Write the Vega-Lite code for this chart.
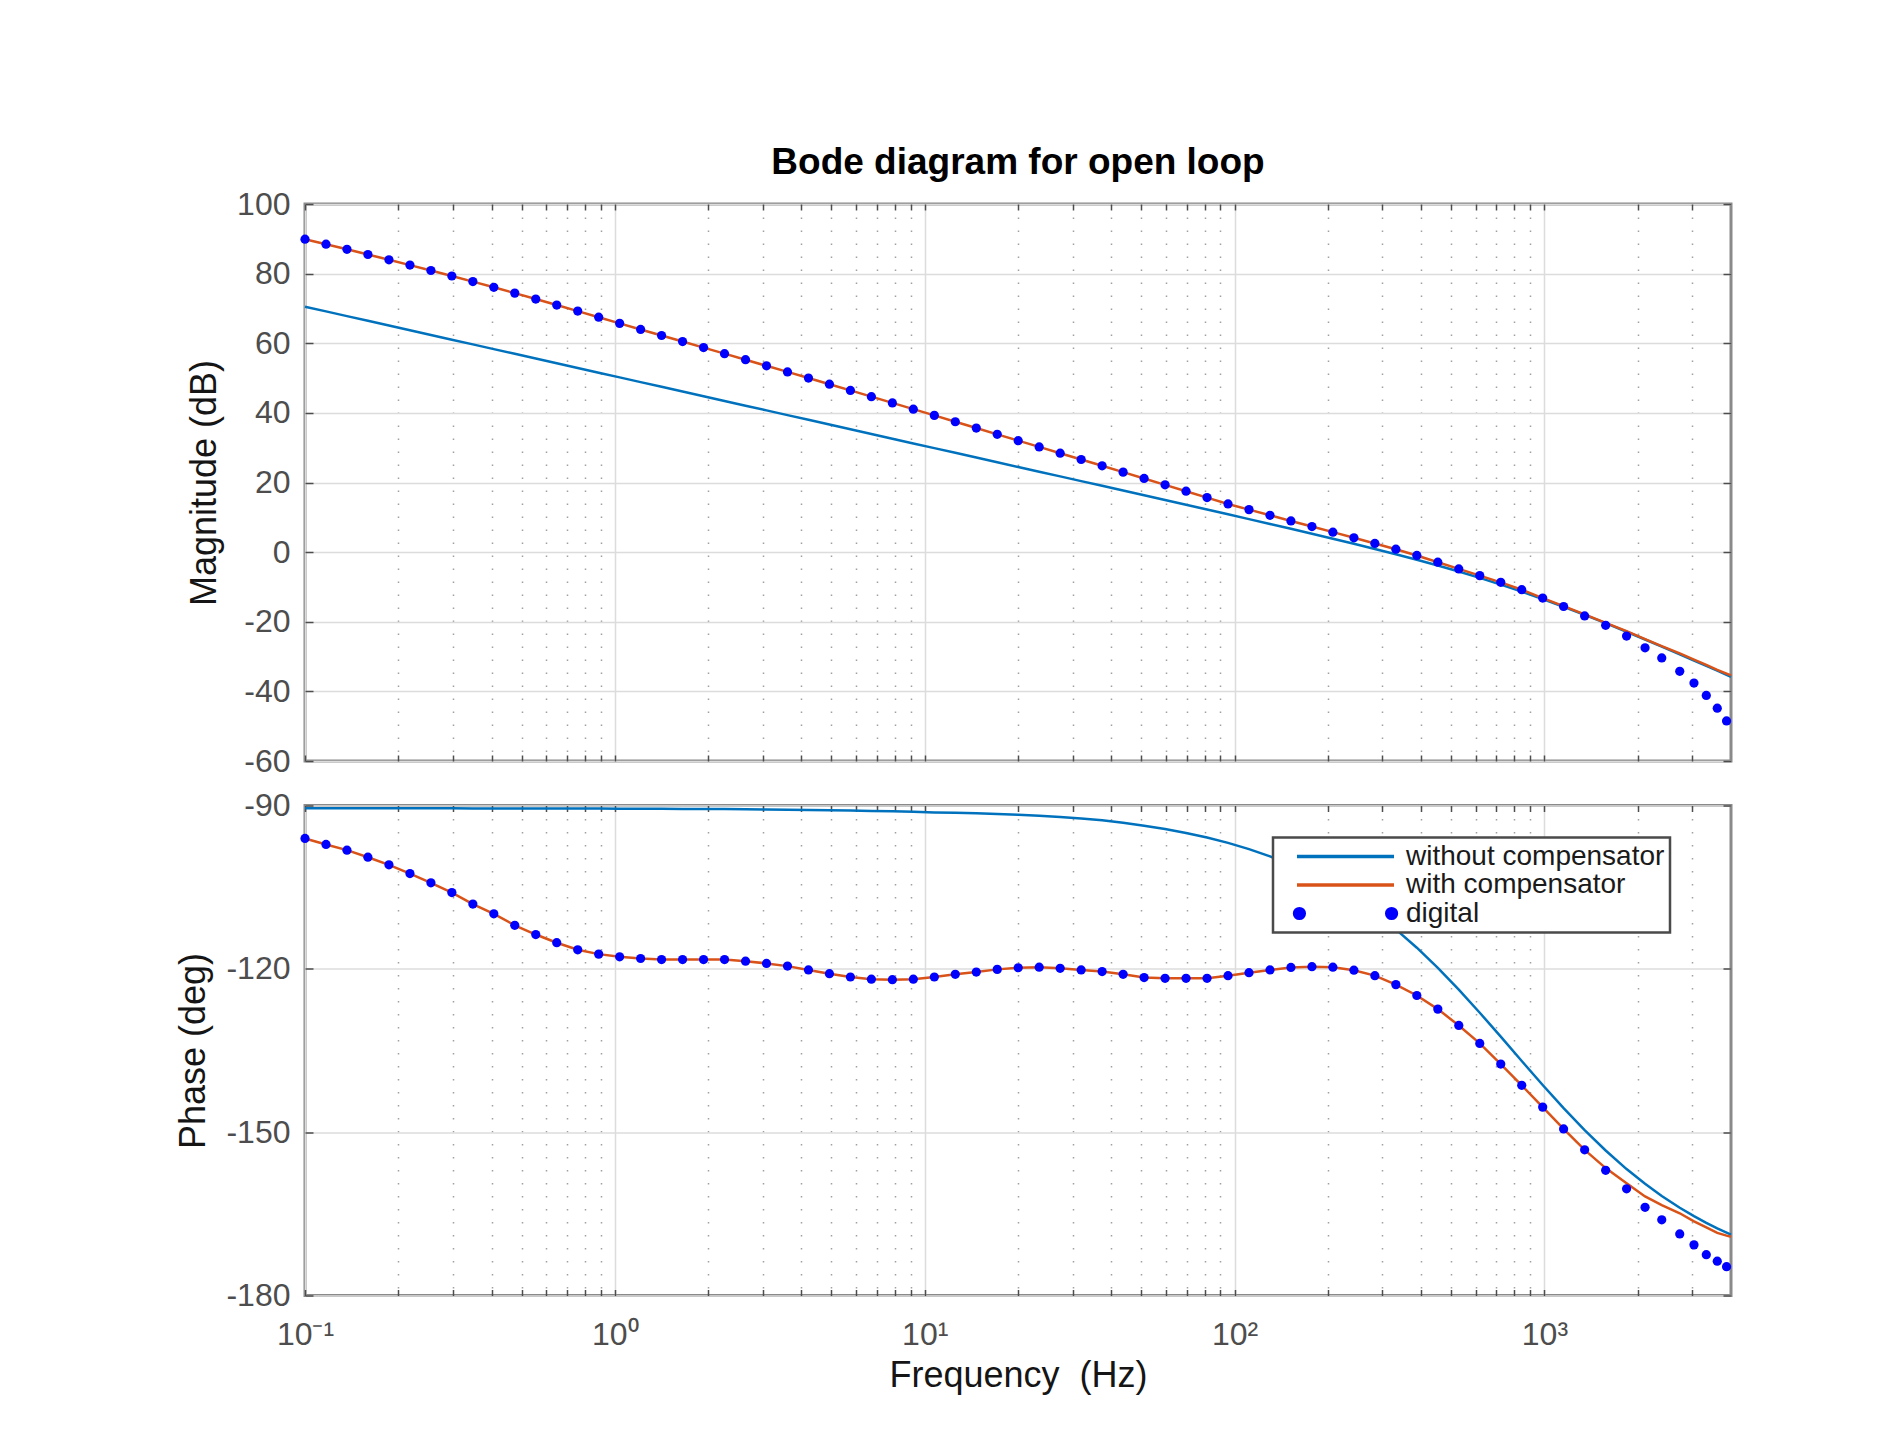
{
  "$schema": "https://vega.github.io/schema/vega-lite/v6.json",
  "background": "white",
  "padding": {"left": 174, "top": 142, "right": 5, "bottom": 5},
  "config": {
    "font": "Liberation Sans",
    "view": {"stroke": "#8a8a8a", "strokeWidth": 3},
    "axis": {"labelFont": "Liberation Sans", "labelFontSize": 32, "labelColor": "#4d4d4d", "titleFont": "Liberation Sans", "titleFontSize": 36, "titleFontWeight": "normal", "titleColor": "#151515", "tickColor": "#4d4d4d", "tickWidth": 1.5, "domain": false, "gridColor": "#dcdcdc", "gridWidth": 1.5, "gridOpacity": 1},
    "legend": {"strokeWidth": 2.5}
  },
  "datasets": {
    "mag": [
      {"f":0.1,"w":70.5,"c":89.9,"d":89.9},
      {"f":0.1169,"w":69.15,"c":88.45,"d":88.45},
      {"f":0.1366,"w":67.79,"c":86.98,"d":86.98},
      {"f":0.1596,"w":66.44,"c":85.49,"d":85.49},
      {"f":0.1866,"w":65.08,"c":83.98,"d":83.98},
      {"f":0.2181,"w":63.73,"c":82.45,"d":82.45},
      {"f":0.2549,"w":62.38,"c":80.9,"d":80.9},
      {"f":0.2978,"w":61.02,"c":79.32,"d":79.32},
      {"f":0.3481,"w":59.67,"c":77.71,"d":77.71},
      {"f":0.4068,"w":58.31,"c":76.07,"d":76.07},
      {"f":0.4753,"w":56.96,"c":74.4,"d":74.4},
      {"f":0.5555,"w":55.61,"c":72.7,"d":72.7},
      {"f":0.6493,"w":54.25,"c":70.98,"d":70.98},
      {"f":0.7588,"w":52.9,"c":69.24,"d":69.24},
      {"f":0.8868,"w":51.54,"c":67.48,"d":67.48},
      {"f":1.036,"w":50.19,"c":65.71,"d":65.71},
      {"f":1.211,"w":48.84,"c":63.96,"d":63.96},
      {"f":1.415,"w":47.48,"c":62.23,"d":62.23},
      {"f":1.654,"w":46.13,"c":60.49,"d":60.49},
      {"f":1.933,"w":44.77,"c":58.75,"d":58.75},
      {"f":2.259,"w":43.42,"c":57.01,"d":57.01},
      {"f":2.641,"w":42.07,"c":55.27,"d":55.27},
      {"f":3.086,"w":40.71,"c":53.52,"d":53.52},
      {"f":3.607,"w":39.36,"c":51.77,"d":51.77},
      {"f":4.215,"w":38.0,"c":50.0,"d":50.0},
      {"f":4.926,"w":36.65,"c":48.23,"d":48.23},
      {"f":5.757,"w":35.3,"c":46.45,"d":46.45},
      {"f":6.728,"w":33.94,"c":44.66,"d":44.66},
      {"f":7.863,"w":32.59,"c":42.86,"d":42.86},
      {"f":9.189,"w":31.23,"c":41.07,"d":41.07},
      {"f":10.74,"w":29.88,"c":39.28,"d":39.28},
      {"f":12.55,"w":28.53,"c":37.45,"d":37.45},
      {"f":14.67,"w":27.17,"c":35.64,"d":35.64},
      {"f":17.14,"w":25.82,"c":33.83,"d":33.83},
      {"f":20.03,"w":24.46,"c":32.02,"d":32.02},
      {"f":23.41,"w":23.11,"c":30.22,"d":30.22},
      {"f":27.36,"w":21.76,"c":28.42,"d":28.42},
      {"f":31.98,"w":20.4,"c":26.61,"d":26.61},
      {"f":37.37,"w":19.05,"c":24.8,"d":24.8},
      {"f":43.68,"w":17.69,"c":22.98,"d":22.98},
      {"f":51.05,"w":16.32,"c":21.16,"d":21.16},
      {"f":59.66,"w":14.96,"c":19.33,"d":19.33},
      {"f":69.72,"w":13.6,"c":17.5,"d":17.5},
      {"f":81.49,"w":12.23,"c":15.66,"d":15.66},
      {"f":95.24,"w":10.86,"c":13.84,"d":13.84},
      {"f":111.3,"w":9.48,"c":12.21,"d":12.21},
      {"f":130.1,"w":8.1,"c":10.58,"d":10.58},
      {"f":152,"w":6.7,"c":8.96,"d":8.96},
      {"f":177.7,"w":5.29,"c":7.35,"d":7.35},
      {"f":207.6,"w":3.86,"c":5.74,"d":5.74},
      {"f":242.7,"w":2.41,"c":4.12,"d":4.12},
      {"f":283.6,"w":0.92,"c":2.49,"d":2.49},
      {"f":331.5,"w":-0.61,"c":0.84,"d":0.84},
      {"f":387.4,"w":-2.2,"c":-0.96,"d":-0.96},
      {"f":452.8,"w":-3.85,"c":-2.89,"d":-2.89},
      {"f":529.1,"w":-5.58,"c":-4.82,"d":-4.82},
      {"f":618.4,"w":-7.4,"c":-6.75,"d":-6.75},
      {"f":722.8,"w":-9.32,"c":-8.68,"d":-8.68},
      {"f":844.7,"w":-11.34,"c":-10.8,"d":-10.8},
      {"f":987,"w":-13.47,"c":-13.21,"d":-13.21},
      {"f":1153,"w":-15.7,"c":-15.5,"d":-15.62},
      {"f":1348,"w":-18.01,"c":-17.9,"d":-18.32},
      {"f":1576,"w":-20.42,"c":-20.3,"d":-21.02},
      {"f":1841,"w":-22.88,"c":-22.7,"d":-24.11},
      {"f":2112,"w":-25.1,"c":-25.0,"d":-27.48},
      {"f":2391,"w":-27.14,"c":-27.0,"d":-30.38},
      {"f":2733,"w":-29.36,"c":-29.1,"d":-34.23},
      {"f":3038,"w":-31.13,"c":-30.9,"d":-37.61},
      {"f":3329,"w":-32.68,"c":-32.4,"d":-41.18},
      {"f":3612,"w":-34.07,"c":-33.8,"d":-44.84},
      {"f":3870,"w":-35.23,"c":-34.9,"d":-48.5},
      {"f":4000,"w":-35.81,"c":-35.4,"d":null}
    ],
    "ph": [
      {"f":0.1,"w":-90.51,"c":-96.05,"d":-96.05},
      {"f":0.1169,"w":-90.51,"c":-97.16,"d":-97.16},
      {"f":0.1366,"w":-90.51,"c":-98.2,"d":-98.2},
      {"f":0.1596,"w":-90.51,"c":-99.5,"d":-99.5},
      {"f":0.1866,"w":-90.51,"c":-100.9,"d":-100.9},
      {"f":0.2181,"w":-90.52,"c":-102.5,"d":-102.5},
      {"f":0.2549,"w":-90.52,"c":-104.2,"d":-104.2},
      {"f":0.2978,"w":-90.52,"c":-106.0,"d":-106.0},
      {"f":0.3481,"w":-90.53,"c":-108.1,"d":-108.1},
      {"f":0.4068,"w":-90.53,"c":-109.9,"d":-109.9},
      {"f":0.4753,"w":-90.53,"c":-112.0,"d":-112.0},
      {"f":0.5555,"w":-90.54,"c":-113.7,"d":-113.7},
      {"f":0.6493,"w":-90.55,"c":-115.2,"d":-115.2},
      {"f":0.7588,"w":-90.56,"c":-116.5,"d":-116.5},
      {"f":0.8868,"w":-90.56,"c":-117.3,"d":-117.3},
      {"f":1.036,"w":-90.58,"c":-117.8,"d":-117.8},
      {"f":1.211,"w":-90.59,"c":-118.1,"d":-118.1},
      {"f":1.415,"w":-90.6,"c":-118.3,"d":-118.3},
      {"f":1.654,"w":-90.62,"c":-118.3,"d":-118.3},
      {"f":1.933,"w":-90.64,"c":-118.3,"d":-118.3},
      {"f":2.259,"w":-90.66,"c":-118.3,"d":-118.3},
      {"f":2.641,"w":-90.69,"c":-118.6,"d":-118.6},
      {"f":3.086,"w":-90.72,"c":-119.0,"d":-119.0},
      {"f":3.607,"w":-90.76,"c":-119.5,"d":-119.5},
      {"f":4.215,"w":-90.81,"c":-120.2,"d":-120.2},
      {"f":4.926,"w":-90.86,"c":-120.9,"d":-120.9},
      {"f":5.757,"w":-90.92,"c":-121.5,"d":-121.5},
      {"f":6.728,"w":-90.99,"c":-121.9,"d":-121.9},
      {"f":7.863,"w":-91.07,"c":-122.0,"d":-122.0},
      {"f":9.189,"w":-91.17,"c":-121.9,"d":-121.9},
      {"f":10.74,"w":-91.28,"c":-121.5,"d":-121.5},
      {"f":12.55,"w":-91.35,"c":-121.0,"d":-121.0},
      {"f":14.67,"w":-91.44,"c":-120.6,"d":-120.6},
      {"f":17.14,"w":-91.55,"c":-120.1,"d":-120.1},
      {"f":20.03,"w":-91.7,"c":-119.8,"d":-119.8},
      {"f":23.41,"w":-91.89,"c":-119.7,"d":-119.7},
      {"f":27.36,"w":-92.1,"c":-119.9,"d":-119.9},
      {"f":31.98,"w":-92.38,"c":-120.2,"d":-120.2},
      {"f":37.37,"w":-92.71,"c":-120.5,"d":-120.5},
      {"f":43.68,"w":-93.16,"c":-121.0,"d":-121.0},
      {"f":51.05,"w":-93.7,"c":-121.6,"d":-121.6},
      {"f":59.66,"w":-94.32,"c":-121.75,"d":-121.75},
      {"f":69.72,"w":-95.04,"c":-121.75,"d":-121.75},
      {"f":81.49,"w":-95.89,"c":-121.75,"d":-121.75},
      {"f":95.24,"w":-96.87,"c":-121.25,"d":-121.25},
      {"f":111.3,"w":-98.02,"c":-120.7,"d":-120.7},
      {"f":130.1,"w":-99.35,"c":-120.2,"d":-120.2},
      {"f":152,"w":-100.89,"c":-119.75,"d":-119.75},
      {"f":177.7,"w":-102.68,"c":-119.6,"d":-119.6},
      {"f":207.6,"w":-104.72,"c":-119.7,"d":-119.7},
      {"f":242.7,"w":-107.08,"c":-120.25,"d":-120.25},
      {"f":283.6,"w":-109.75,"c":-121.25,"d":-121.25},
      {"f":331.5,"w":-112.76,"c":-122.9,"d":-122.9},
      {"f":387.4,"w":-116.12,"c":-124.9,"d":-124.9},
      {"f":452.8,"w":-119.82,"c":-127.4,"d":-127.4},
      {"f":529.1,"w":-123.81,"c":-130.4,"d":-130.4},
      {"f":618.4,"w":-128.06,"c":-133.7,"d":-133.7},
      {"f":722.8,"w":-132.46,"c":-137.5,"d":-137.5},
      {"f":844.7,"w":-136.92,"c":-141.4,"d":-141.4},
      {"f":987,"w":-141.33,"c":-145.4,"d":-145.4},
      {"f":1153,"w":-145.59,"c":-149.4,"d":-149.4},
      {"f":1348,"w":-149.63,"c":-153.25,"d":-153.25},
      {"f":1576,"w":-153.37,"c":-156.6,"d":-157.0},
      {"f":1841,"w":-156.78,"c":-159.4,"d":-160.4},
      {"f":2112,"w":-159.49,"c":-161.8,"d":-163.8},
      {"f":2391,"w":-161.72,"c":-163.4,"d":-166.1},
      {"f":2733,"w":-163.88,"c":-164.9,"d":-168.7},
      {"f":3038,"w":-165.42,"c":-166.4,"d":-170.7},
      {"f":3329,"w":-166.65,"c":-167.5,"d":-172.5},
      {"f":3612,"w":-167.66,"c":-168.5,"d":-173.7},
      {"f":3870,"w":-168.46,"c":-169.0,"d":-174.7},
      {"f":4000,"w":-168.83,"c":-169.2,"d":null}
    ]
  },
  "spacing": 8.5,
  "resolve": {"scale": {"color": "independent"}, "legend": {"color": "independent"}},
  "vconcat": [
    {
      "width": 1426,
      "height": 557,
      "title": {"text": "Bode diagram for open loop", "fontSize": 37, "fontWeight": "bold", "color": "#000000", "font": "Liberation Sans", "anchor": "middle", "frame": "group", "offset": 6},
      "data": {"name": "mag"},
      "resolve": {"axis": {"x": "independent", "y": "independent"}},
      "layer": [
        {
          "transform": [{"fold": ["w", "c"], "as": ["s", "v"]}],
          "mark": {"type": "line", "strokeWidth": 2.5},
          "encoding": {
            "x": {"field": "f", "type": "quantitative", "scale": {"type": "log", "domain": [0.1, 4000], "nice": false},
              "axis": {"orient": "bottom", "values": [0.1,0.2,0.3,0.4,0.5,0.6,0.7,0.8,0.9,1,2,3,4,5,6,7,8,9,10,20,30,40,50,60,70,80,90,100,200,300,400,500,600,700,800,900,1000,2000,3000],
                "labels": false, "title": null, "tickSize": -6, "grid": true,
                "gridDash": {"condition": {"test": "datum.value == 0.1 || datum.value == 1 || datum.value == 10 || datum.value == 100 || datum.value == 1000", "value": []}, "value": [1.5, 11.5]},
                "gridColor": {"condition": {"test": "datum.value == 0.1 || datum.value == 1 || datum.value == 10 || datum.value == 100 || datum.value == 1000", "value": "#dcdcdc"}, "value": "#a0a0a0"}}},
            "y": {"field": "v", "type": "quantitative", "scale": {"domain": [-60, 100], "nice": false, "zero": false},
              "axis": {"orient": "left", "values": [-60,-40,-20,0,20,40,60,80,100], "labelExpr": "'' + datum.value", "tickSize": -8, "labelPadding": 23, "grid": true, "title": "Magnitude (dB)", "titlePadding": 13}},
            "color": {"field": "s", "type": "nominal", "scale": {"domain": ["w", "c", "d"], "range": ["#0072BD", "#D95319", "#0000FF"]}, "legend": null}
          }
        },
        {
          "mark": {"type": "point", "filled": true, "size": 85, "color": "#0000FF", "opacity": 1},
          "encoding": {
            "x": {"field": "f", "type": "quantitative",
              "axis": {"orient": "top", "values": [0.1,0.2,0.3,0.4,0.5,0.6,0.7,0.8,0.9,1,2,3,4,5,6,7,8,9,10,20,30,40,50,60,70,80,90,100,200,300,400,500,600,700,800,900,1000,2000,3000], "labels": false, "grid": false, "tickSize": -6, "title": null}},
            "y": {"field": "d", "type": "quantitative",
              "axis": {"orient": "right", "values": [-60,-40,-20,0,20,40,60,80,100], "labels": false, "grid": false, "tickSize": -8, "title": null}}
          }
        }
      ]
    },
    {
      "width": 1426,
      "height": 490,
      "data": {"name": "ph"},
      "resolve": {"axis": {"x": "independent", "y": "independent"}},
      "layer": [
        {
          "transform": [{"fold": ["w", "c"], "as": ["s", "v"]}],
          "mark": {"type": "line", "strokeWidth": 2.5},
          "encoding": {
            "x": {"field": "f", "type": "quantitative", "scale": {"type": "log", "domain": [0.1, 4000], "nice": false},
              "axis": {"orient": "bottom", "values": [0.1,0.2,0.3,0.4,0.5,0.6,0.7,0.8,0.9,1,2,3,4,5,6,7,8,9,10,20,30,40,50,60,70,80,90,100,200,300,400,500,600,700,800,900,1000,2000,3000],
                "labelExpr": "datum.value == 0.1 ? '10\u207b\u00b9' : datum.value == 1 ? '10\u2070' : datum.value == 10 ? '10\u00b9' : datum.value == 100 ? '10\u00b2' : datum.value == 1000 ? '10\u00b3' : ''",
                "labelFlush": false, "labelOverlap": false, "labelPadding": 30,
                "title": "Frequency \u00a0(Hz)", "titlePadding": 8, "tickSize": -6, "grid": true,
                "gridDash": {"condition": {"test": "datum.value == 0.1 || datum.value == 1 || datum.value == 10 || datum.value == 100 || datum.value == 1000", "value": []}, "value": [1.5, 11.5]},
                "gridColor": {"condition": {"test": "datum.value == 0.1 || datum.value == 1 || datum.value == 10 || datum.value == 100 || datum.value == 1000", "value": "#dcdcdc"}, "value": "#a0a0a0"}}},
            "y": {"field": "v", "type": "quantitative", "scale": {"domain": [-180, -90], "nice": false, "zero": false},
              "axis": {"orient": "left", "values": [-180,-150,-120,-90], "labelExpr": "'' + datum.value", "tickSize": -8, "labelPadding": 23, "grid": true, "title": "Phase (deg)", "titlePadding": 13}},
            "color": {"field": "s", "type": "nominal", "scale": {"domain": ["w", "c", "d"], "range": ["#0072BD", "#D95319", "#0000FF"]},
              "legend": {
                "orient": "none", "legendX": 968, "legendY": 32, "title": null,
                "labelExpr": "datum.value == 'w' ? 'without compensator' : datum.value == 'c' ? 'with compensator' : 'digital'",
                "labelFont": "Liberation Sans", "labelFontSize": 28, "labelColor": "#1a1a1a", "labelLimit": 600,
                "symbolSize": 9409, "symbolStrokeWidth": 3.5, "symbolOffset": 17,
                "clipHeight": 28, "rowPadding": 0.5, "labelOffset": 10, "padding": 5,
                "strokeColor": "#4a4a4a", "fillColor": "#ffffff",
                "encoding": {"symbols": {
                  "shape": {"condition": {"test": "datum.value == 'd'", "value": "M-1.05,0a0.1,0.1 0 1,0 0.2,0a0.1,0.1 0 1,0 -0.2,0M0.85,0a0.1,0.1 0 1,0 0.2,0a0.1,0.1 0 1,0 -0.2,0"}, "value": "stroke"},
                  "fill": {"condition": {"test": "datum.value == 'd'", "value": "#0000FF"}, "value": "transparent"},
                  "stroke": {"value": {"expr": "datum.value == 'w' ? '#0072BD' : datum.value == 'c' ? '#D95319' : 'transparent'"}},
                  "strokeWidth": {"value": 3.5},
                  "opacity": {"value": 1}
                }}
              }}
          }
        },
        {
          "mark": {"type": "point", "filled": true, "size": 85, "color": "#0000FF", "opacity": 1},
          "encoding": {
            "x": {"field": "f", "type": "quantitative",
              "axis": {"orient": "top", "values": [0.1,0.2,0.3,0.4,0.5,0.6,0.7,0.8,0.9,1,2,3,4,5,6,7,8,9,10,20,30,40,50,60,70,80,90,100,200,300,400,500,600,700,800,900,1000,2000,3000], "labels": false, "grid": false, "tickSize": -6, "title": null}},
            "y": {"field": "d", "type": "quantitative",
              "axis": {"orient": "right", "values": [-180,-150,-120,-90], "labels": false, "grid": false, "tickSize": -8, "title": null}}
          }
        }
      ]
    }
  ]
}
